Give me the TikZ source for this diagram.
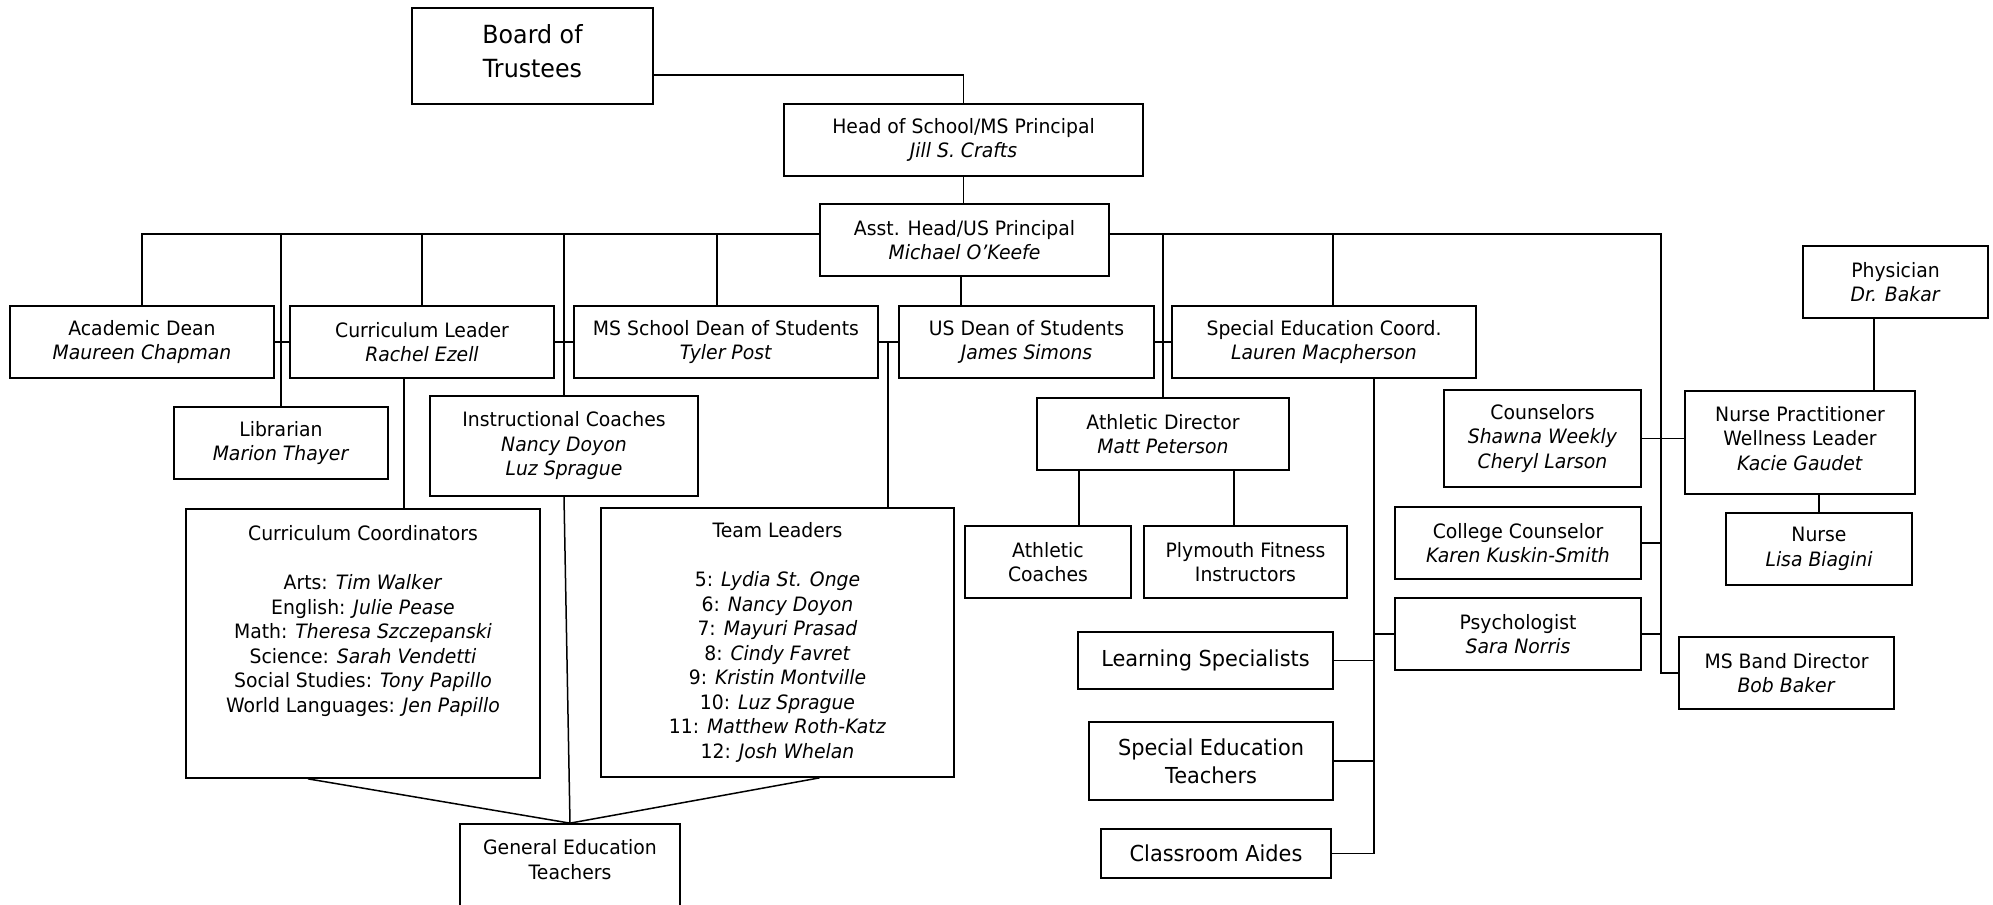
\documentclass[tikz,border=0pt]{standalone}
\usepackage{fontspec}
\setmainfont{DejaVu Sans}[FakeStretch=0.95]
\begin{document}
\begin{tikzpicture}[x=0.5pt,y=-0.5pt,
  box/.style={draw, line width=0.85pt, align=center, inner sep=0pt, font=\fontsize{9.9}{12.25}\selectfont},
  bigbox/.style={box, font=\fontsize{11}{14}\selectfont},
  conn/.style={line width=0.75pt}]
\useasboundingbox (0,0) rectangle (1993,905);
% nodes
\node[box, font=\fontsize{12.5}{17}\selectfont, minimum width=120.5pt, minimum height=48pt] (board) at (532.5,56) {Board of\\Trustees\\[-12pt]\mbox{}};
\node[box, minimum width=179.5pt, minimum height=36pt] (head) at (963.5,140) {Head of School/MS Principal\\\textit{Jill S. Crafts}};
\node[box, minimum width=144.5pt, minimum height=36pt] (asst) at (964.5,240) {Asst. Head/US Principal\\\textit{Michael O’Keefe}};
\node[box, minimum width=132pt, minimum height=36pt] (acad) at (142,342) {Academic Dean\\\textit{Maureen Chapman}};
\node[box, minimum width=132pt, minimum height=36pt] (curl) at (422,342) {Curriculum Leader\\\textit{Rachel Ezell}};
\node[box, minimum width=152pt, minimum height=36pt] (msdean) at (726,342) {MS School Dean of Students\\\textit{Tyler Post}};
\node[box, minimum width=127.5pt, minimum height=36pt] (usdean) at (1026.5,342) {US Dean of Students\\\textit{James Simons}};
\node[box, minimum width=152pt, minimum height=36pt] (sped) at (1324,342) {Special Education Coord.\\\textit{Lauren Macpherson}};
\node[box, minimum width=92.5pt, minimum height=36pt] (phys) at (1895.5,282) {Physician\\\textit{Dr. Bakar}};
\node[box, minimum width=107pt, minimum height=36pt] (lib) at (281,443) {Librarian\\\textit{Marion Thayer}};
\node[box, minimum width=134pt, minimum height=50pt] (instr) at (564,446) {Instructional Coaches\\\textit{Nancy Doyon}\\\textit{Luz Sprague}};
\node[box, minimum width=126pt, minimum height=36pt] (athdir) at (1163,434) {Athletic Director\\\textit{Matt Peterson}};
\node[box, minimum width=98.5pt, minimum height=48.5pt] (couns) at (1542.5,438.5) {Counselors\\\textit{Shawna Weekly}\\\textit{Cheryl Larson}};
\node[box, minimum width=115pt, minimum height=51.5pt] (np) at (1800,442.5) {Nurse Practitioner\\Wellness Leader\\\textit{Kacie Gaudet}\\[-7.75pt]\mbox{}};
\node[box, minimum width=123pt, minimum height=36pt] (colc) at (1518,543) {College Counselor\\\textit{Karen Kuskin-Smith}};
\node[box, minimum width=93pt, minimum height=36pt] (nurse) at (1819,549) {Nurse\\\textit{Lisa Biagini}};
\node[box, minimum width=177pt, minimum height=134.5pt] (ccoord) at (363,643.5) {Curriculum Coordinators\\\mbox{}\\Arts: \textit{Tim Walker}\\English: \textit{Julie Pease}\\Math: \textit{Theresa Szczepanski}\\Science: \textit{Sarah Vendetti}\\Social Studies: \textit{Tony Papillo}\\World Languages: \textit{Jen Papillo}\\\mbox{}\\\mbox{}};
\node[box, minimum width=176.5pt, minimum height=134.5pt] (team) at (777.5,642.5) {Team Leaders\\\mbox{}\\5: \textit{Lydia St. Onge}\\6: \textit{Nancy Doyon}\\7: \textit{Mayuri Prasad}\\8: \textit{Cindy Favret}\\9: \textit{Kristin Montville}\\10: \textit{Luz Sprague}\\11: \textit{Matthew Roth-Katz}\\12: \textit{Josh Whelan}};
\node[box, minimum width=83pt, minimum height=36pt] (athc) at (1048,562) {Athletic\\Coaches};
\node[box, minimum width=101.5pt, minimum height=36pt] (plym) at (1245.5,562) {Plymouth Fitness\\Instructors};
\node[bigbox, minimum width=127.5pt, minimum height=28.5pt] (learn) at (1205.5,660.5) {Learning Specialists};
\node[box, minimum width=123pt, minimum height=36pt] (psych) at (1518,634) {Psychologist\\\textit{Sara Norris}};
\node[box, minimum width=107.5pt, minimum height=36pt] (band) at (1786.5,673) {MS Band Director\\\textit{Bob Baker}};
\node[bigbox, minimum width=122pt, minimum height=39pt] (spt) at (1211,761) {Special Education\\Teachers};
\node[bigbox, minimum width=115pt, minimum height=24.5pt] (aides) at (1216,853.5) {Classroom Aides};
\node[box, minimum width=110pt, minimum height=47.5pt] (gened) at (570,871.5) {General Education\\Teachers\\\mbox{}};
% helper coordinates
\coordinate (b1) at (0,75);
\coordinate (bus) at (0,234);
\coordinate (m1) at (717,0);
\coordinate (u1) at (961,0);
\coordinate (t1) at (888,0);
\coordinate (bv) at (1661,0);
\coordinate (s2) at (1333,0);
\coordinate (sv) at (1374,0);
\coordinate (a1) at (1079,0);
\coordinate (a2) at (1234,0);
\coordinate (p1) at (1874,0);
\coordinate (c1) at (404,0);
\coordinate (c2) at (308,0);
\coordinate (c3) at (819.5,0);
% connectors
\begin{scope}[conn]
\draw (board.east |- b1) -| (head.north);
\draw (head.south) -- (head.south |- asst.north);
\draw (asst.west |- bus) -| (acad.north);
\draw (lib.north |- bus) -- (lib.north);
\draw (acad.east) -- (curl.west);
\draw (curl.north |- bus) -- (curl.north);
\draw (instr.north |- bus) -- (instr.north);
\draw (curl.east) -- (msdean.west);
\draw (m1 |- bus) -- (m1 |- msdean.north);
\draw (u1 |- asst.south) -- (u1 |- usdean.north);
\draw (msdean.east) -- (usdean.west);
\draw (t1 |- msdean.east) -- (t1 |- team.north);
\draw (asst.east |- bus) -| (bv |- band.west) -- (band.west);
\draw (athdir.north |- bus) -- (athdir.north);
\draw (usdean.east) -- (sped.west);
\draw (s2 |- bus) -- (s2 |- sped.north);
\draw (sv |- sped.south) -- (sv |- aides.east) -- (aides.east);
\draw (learn.east) -- (sv |- learn.east);
\draw (spt.east) -- (sv |- spt.east);
\draw (psych.west) -- (sv |- psych.west);
\draw (a1 |- athdir.south) -- (a1 |- athc.north);
\draw (a2 |- athdir.south) -- (a2 |- plym.north);
\draw (couns.east) -- (couns.east -| np.west);
\draw (colc.east) -- (bv |- colc.east);
\draw (psych.east) -- (bv |- psych.east);
\draw (p1 |- phys.south) -- (p1 |- np.north);
\draw (nurse.north |- np.south) -- (nurse.north);
\draw (c1 |- curl.south) -- (c1 |- ccoord.north);
\draw (c2 |- ccoord.south) -- (gened.north);
\draw (c3 |- team.south) -- (gened.north);
\draw (instr.south) -- (gened.north);
\end{scope}
\end{tikzpicture}
\end{document}
